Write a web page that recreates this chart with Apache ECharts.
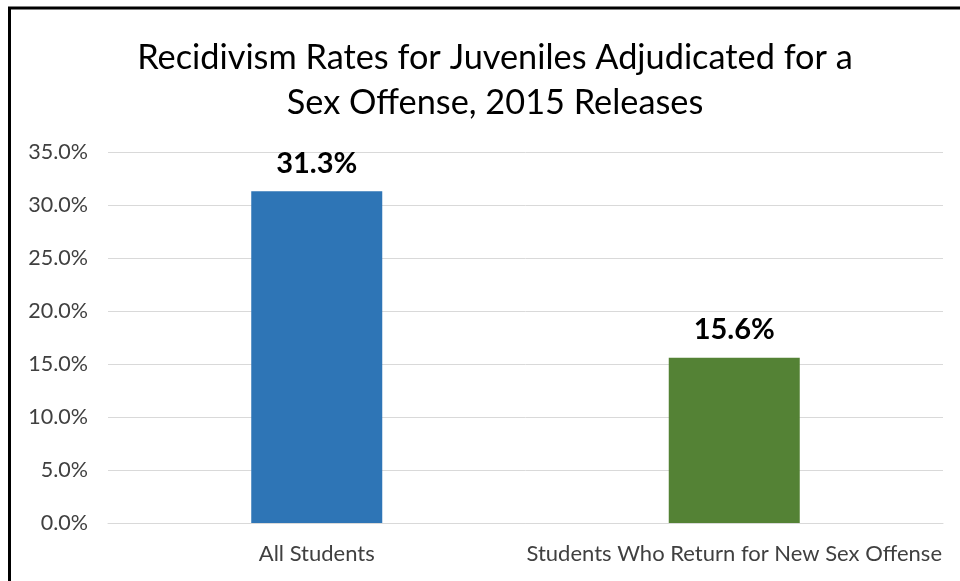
<!DOCTYPE html>
<html>
<head>
<meta charset="utf-8">
<script src="https://cdn.jsdelivr.net/npm/echarts@6/dist/echarts.min.js"></script>
<style>
html,body{margin:0;padding:0;background:#fff;}
#chart{width:960px;height:581px;}
</style>
</head>
<body>
<div id="chart"></div>
<script>
const titleText = 'Recidivism Rates for Juveniles Adjudicated for a\nSex Offense, 2015 Releases';
const categories = ['All Students', 'Students Who Return for New Sex Offense'];
const rates = [31.3, 15.6];
const barColors = ['#2E75B6', '#548235'];
const yMin = 0, yMax = 35, yStep = 5;

const chart = echarts.init(document.getElementById('chart'), null, {renderer: 'canvas'});
const FONT = 'Lato, Calibri, Carlito, sans-serif';
chart.setOption({
  backgroundColor: '#ffffff',
  animation: false,
  title: {
    text: titleText,
    left: 490,
    textAlign: 'center',
    top: 30,
    textStyle: {fontFamily: FONT, fontSize: 34.3, fontWeight: 'normal', color: '#000', lineHeight: 45}
  },
  grid: {left: 108, right: 17, top: 152, bottom: 58, containLabel: false},
  xAxis: {
    type: 'category',
    data: categories,
    axisLine: {show: true, lineStyle: {color: '#d9d9d9', width: 1}},
    axisTick: {show: false},
    axisLabel: {fontFamily: FONT, fontSize: 22, color: '#404040', margin: 20, interval: 0}
  },
  yAxis: {
    type: 'value',
    min: yMin, max: yMax, interval: yStep,
    axisLine: {show: false},
    axisTick: {show: false},
    splitLine: {lineStyle: {color: '#d9d9d9', width: 1}},
    axisLabel: {fontFamily: FONT, fontSize: 21.5, color: '#404040', margin: 20,
      formatter: v => v.toFixed(1) + '%'}
  },
  series: [{
    type: 'bar',
    barWidth: 131,
    data: rates.map((v, i) => ({value: v, itemStyle: {color: barColors[i]}})),
    label: {
      show: true, position: 'top', distance: 13,
      fontFamily: FONT, fontSize: 29, fontWeight: 'bold', color: '#000',
      formatter: p => p.value.toFixed(1) + '%'
    }
  }],
  graphic: [
    {type: 'line', shape: {x1: 9.5, y1: 8, x2: 9.5, y2: 581}, style: {stroke: '#000', lineWidth: 3}},
    {type: 'line', shape: {x1: 8, y1: 8, x2: 960, y2: 8}, style: {stroke: '#000', lineWidth: 3}}
  ]
});
</script>
</body>
</html>
